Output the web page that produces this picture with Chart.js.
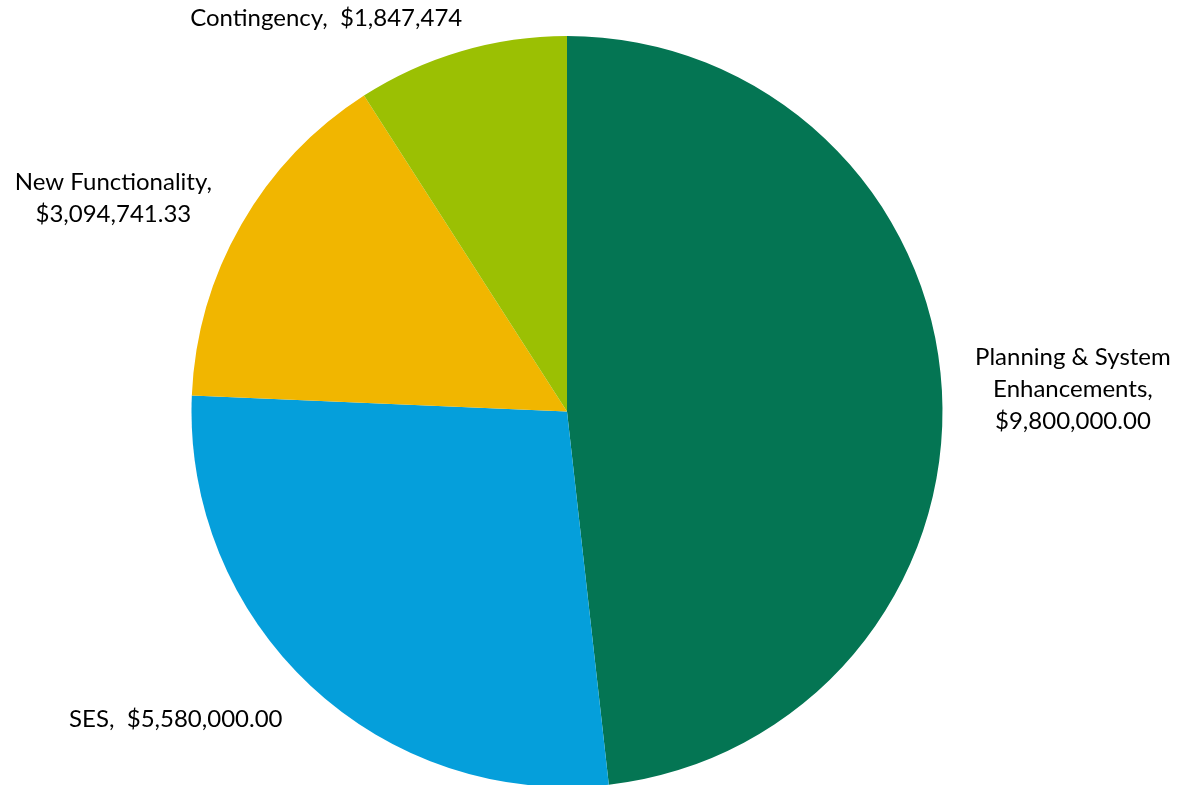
<!DOCTYPE html>
<html>
<head>
<meta charset="utf-8">
<script src="https://cdn.jsdelivr.net/npm/chart.js@4/dist/chart.umd.min.js"></script>
<style>
  html, body { margin: 0; padding: 0; background: #fff; overflow: hidden; }
  #wrap { width: 1178px; height: 785px; overflow: hidden; }
</style>
</head>
<body>
<div id="wrap"><canvas id="budgetChart" width="1178" height="787"></canvas></div>
<script>
// Budget split pie.
const categories = ['Planning & System Enhancements', 'SES', 'New Functionality', 'Contingency'];
const amounts = [9800000.00, 5580000.00, 3094741.33, 1847474];
const amountDecimals = [2, 2, 2, 0];
const sliceColors = ['#047553', '#059fdb', '#f1b600', '#9bc003'];

// how each label wraps in the original
const labelNameLines = [['Planning & System', 'Enhancements,'], ['SES,'], ['New Functionality,'], ['Contingency,']];
const valueOnSameLine = [false, true, false, true];
// nudge from the slice's mid-angle point on the rim
const labelNudge = [[131, -1], [-135, 33], [-128, -26], [-135, -33]];

function fmtMoney(v, d) {
  return '$' + v.toLocaleString('en-US', { minimumFractionDigits: d, maximumFractionDigits: d });
}

const outsideLabels = {
  id: 'outsideLabels',
  afterDatasetsDraw(chart) {
    const ctx = chart.ctx;
    const meta = chart.getDatasetMeta(0);
    ctx.save();
    ctx.font = '24px Lato, "Open Sans", sans-serif';
    ctx.fillStyle = '#000';
    ctx.textAlign = 'center';
    ctx.textBaseline = 'middle';
    meta.data.forEach((arc, i) => {
      const p = arc.getProps(['x', 'y', 'startAngle', 'endAngle', 'outerRadius'], true);
      const mid = (p.startAngle + p.endAngle) / 2;
      const ax = p.x + Math.cos(mid) * p.outerRadius + labelNudge[i][0];
      const ay = p.y + Math.sin(mid) * p.outerRadius + labelNudge[i][1];
      let lines = labelNameLines[i].slice();
      const money = fmtMoney(amounts[i], amountDecimals[i]);
      if (valueOnSameLine[i]) lines[lines.length - 1] += '  ' + money;
      else lines.push(money);
      const lh = 32;
      const top = ay - (lines.length - 1) * lh / 2;
      lines.forEach((t, k) => ctx.fillText(t, ax, top + k * lh));
    });
    ctx.restore();
  }
};

new Chart(document.getElementById('budgetChart'), {
  type: 'pie',
  data: {
    labels: categories,
    datasets: [{
      data: amounts,
      backgroundColor: sliceColors,
      borderWidth: 0,
    }],
  },
  options: {
    responsive: false,
    animation: false,
    layout: { padding: { top: 36, bottom: 0, left: 0, right: 44 } },
    plugins: { legend: { display: false }, tooltip: { enabled: false } },
  },
  plugins: [outsideLabels],
});
</script>
</body>
</html>
